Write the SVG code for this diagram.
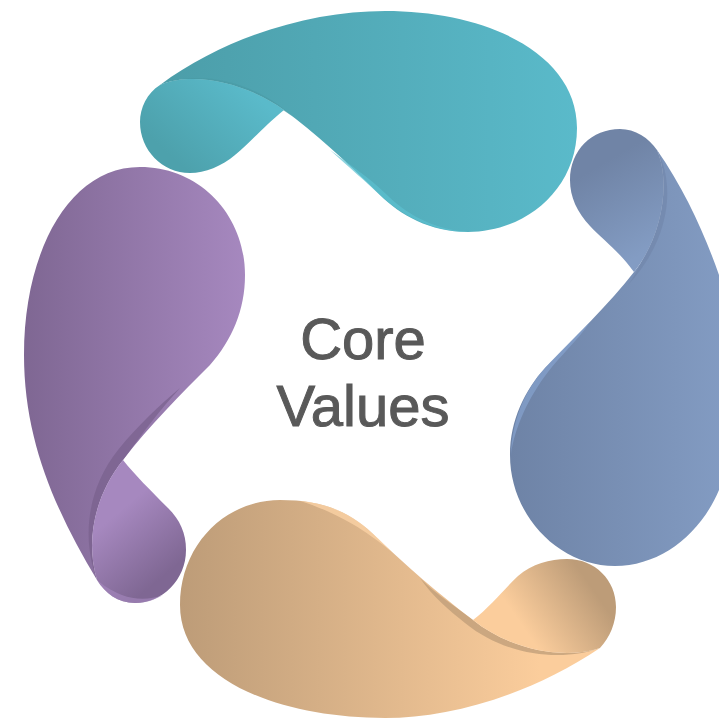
<svg xmlns="http://www.w3.org/2000/svg" width="719" height="718" viewBox="0 0 719 718">
<style>
text{font-family:"Liberation Sans",Arial,sans-serif;font-size:58px;fill:#595959;stroke:#595959;stroke-width:1;text-anchor:middle}
</style>
<defs>
<linearGradient id="tealB" gradientUnits="userSpaceOnUse" x1="140" y1="0" x2="577" y2="0"><stop offset="0" stop-color="#4b9ca7"/><stop offset="1" stop-color="#5abaca"/></linearGradient>
<linearGradient id="tealT" gradientUnits="userSpaceOnUse" x1="175" y1="160" x2="245" y2="85"><stop offset="0" stop-color="#4da1ac"/><stop offset="1" stop-color="#5abaca"/></linearGradient>
<linearGradient id="blueB" gradientUnits="userSpaceOnUse" x1="510" y1="0" x2="730" y2="0"><stop offset="0" stop-color="#6e83a6"/><stop offset="1" stop-color="#839cc3"/></linearGradient>
<linearGradient id="blueT" gradientUnits="userSpaceOnUse" x1="600" y1="165" x2="650" y2="250"><stop offset="0" stop-color="#7084a6"/><stop offset="1" stop-color="#839cc3"/></linearGradient>
<linearGradient id="tanB" gradientUnits="userSpaceOnUse" x1="180" y1="0" x2="540" y2="0"><stop offset="0" stop-color="#bd9c78"/><stop offset="1" stop-color="#fbcd9c"/></linearGradient>
<linearGradient id="tanT" gradientUnits="userSpaceOnUse" x1="590" y1="585" x2="525" y2="630"><stop offset="0" stop-color="#bd9c78"/><stop offset="1" stop-color="#fbcd9c"/></linearGradient>
<linearGradient id="purB" gradientUnits="userSpaceOnUse" x1="24" y1="0" x2="245" y2="0"><stop offset="0" stop-color="#7f6793"/><stop offset="1" stop-color="#a688bf"/></linearGradient>
<linearGradient id="purT" gradientUnits="userSpaceOnUse" x1="115" y1="515" x2="165" y2="575"><stop offset="0" stop-color="#a688bf"/><stop offset="1" stop-color="#7f6793"/></linearGradient>
</defs>
<g id="connectors"></g>
<g id="node-teal">
<path fill="url(#tealB)" d="M160 85C225 37 310 11 385 11C490 11 577 55 577 128C577 190 525 232 468 232C430 232 400 215 380 195C345 160 315 133 284 110C250 85 195 70 160 85Z"/>
<path fill="#4a99a4" opacity=".6" d="M160 85C195 70 250 78 292 116C255 90 200 76 160 85Z"/>
<path fill="#5dc0d0" opacity=".7" d="M330 150C350 168 365 181 381 196C402 215 430 231 468 232C432 229 405 213 386 194C370 178 350 165 330 150Z"/>
<path fill="url(#tealT)" d="M284 110C262 128 250 143 235 155C222 166 205 173 190 173C162 173 140 150 140 122C140 108 147 93 160 85C195 70 250 85 284 110Z"/>
</g>
<g id="node-blue">
<path fill="url(#blueB)" d="M657 150C685 190 705 235 719 275V490C700 535 660 566 615 566C558 566 510 515 510 455C510 420 525 390 545 368C575 337 610 303 634 272C660 240 672 185 657 150Z"/>
<path fill="#6f84a7" opacity=".55" d="M657 150C676 185 670 240 628 285C648 258 672 190 657 150Z"/>
<path fill="#86a3cf" opacity=".7" d="M590 322C575 337 558 354 545 368C525 390 512 420 511 455C514 428 530 395 548 372C560 356 578 340 590 322Z"/>
<path fill="url(#blueT)" d="M634 272C618 250 603 240 590 226C577 212 570 197 570 180C570 150 592 129 620 129C635 129 649 138 657 150C672 185 660 240 634 272Z"/>
</g>
<g id="node-tan">
<path fill="url(#tanB)" d="M600 648C530 695 450 718 385 718C280 718 180 680 180 605C180 545 225 500 280 500C320 500 347 510 372 533C405 565 440 595 473 620C510 650 565 660 600 648Z"/>
<path fill="#bd9c78" opacity=".75" d="M600 648C565 661 508 658 465 623C450 611 432 596 420 578C438 596 455 606 473 620C510 650 565 660 600 648Z"/>
<path fill="#ffd6a8" opacity=".7" d="M300 501C325 503 350 512 372 533C380 540 386 546 392 552C372 536 345 515 300 501Z"/>
<path fill="url(#tanT)" d="M473 620C490 607 505 588 518 576C532 564 550 559 567 559C595 559 616 580 616 607C616 623 610 637 600 648C565 660 510 650 473 620Z"/>
</g>
<g id="node-purple">
<path fill="url(#purB)" d="M97 580C55 510 24 440 24 355C24 250 70 167 140 167C200 167 245 215 245 275C245 310 232 340 210 365C180 395 150 425 123 460C95 495 85 540 97 580Z"/>
<path fill="#7a628e" opacity=".75" d="M97 580C82 540 86 490 118 450C138 425 160 405 180 388C160 410 145 430 123 460C95 495 85 540 97 580Z"/>
<path fill="url(#purT)" d="M123 460C135 475 150 490 168 508C180 520 186 533 186 550C186 580 162 603 135 603C118 603 105 593 97 580C85 540 95 495 123 460Z"/>
<path fill="#a688bf" opacity=".6" d="M97 580C105 593 118 603 135 603C145 603 155 600 163 595C150 600 135 600 122 595C110 590 103 585 97 580Z"/>
</g>
<g id="node-center">
<text x="363" y="359">Core</text>
<text x="363" y="426">Values</text>
</g>
</svg>
